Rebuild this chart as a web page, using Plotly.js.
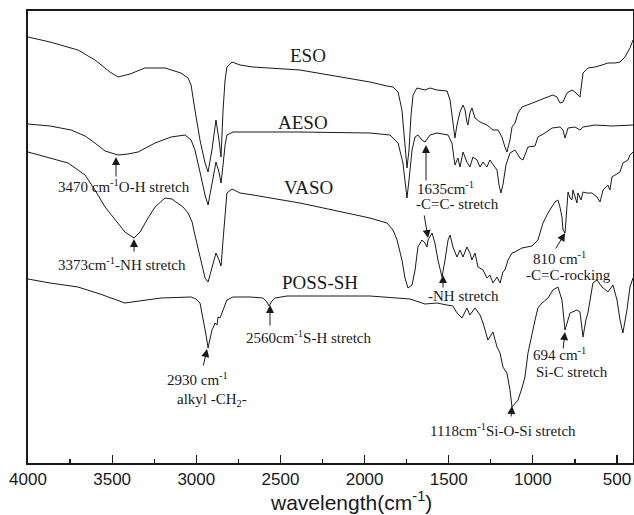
<!DOCTYPE html>
<html>
<head>
<meta charset="utf-8">
<script src="https://cdn.plot.ly/plotly-3.0.1.min.js"></script>
<style>html,body{margin:0;padding:0;background:#fff;}#chart{width:634px;height:515px;}</style>
</head>
<body>
<div id="chart"></div>
<script>
// Wavenumber (cm^-1) and relative transmittance (arbitrary offset units)
const esoX = [4000,3869,3703,3602,3513,3465,3394,3305,3186,3091,3049,3031,3008,2978,2948,2930,2907,2883,2865,2853,2841,2829,2818,2788,2740,2663,2384,1968,1867,1831,1801,1778,1760,1748,1736,1724,1712,1689,1641,1611,1570,1510,1492,1475,1463,1451,1433,1415,1403,1392,1386,1374,1362,1344,1314,1273,1237,1207,1184,1166,1154,1136,1124,1106,1088,1065,1029,987,928,881,857,839,821,797,768,750,720,702,673,631,589,554,512,482,453,423,405];
const esoY = [426,421,413,403,391,386,389,395,395,390,385,378,353,323,300,291,313,343,323,306,353,383,396,401,398,396,393,381,377,376,371,353,318,295,313,348,368,375,373,375,373,372,363,338,325,338,351,358,353,341,338,350,355,345,341,338,333,333,326,316,311,323,336,340,350,356,358,361,365,368,366,360,361,370,373,371,366,390,395,396,398,400,400,401,406,415,423];

const aesoX = [4000,3869,3744,3661,3602,3542,3465,3406,3346,3245,3150,3067,3031,3008,2978,2948,2930,2907,2883,2865,2853,2841,2829,2818,2782,2384,1968,1849,1801,1772,1754,1748,1736,1718,1700,1683,1659,1641,1611,1570,1504,1481,1463,1445,1433,1415,1392,1374,1356,1332,1314,1296,1273,1255,1231,1213,1201,1190,1178,1160,1136,1106,1077,1059,1029,987,970,928,886,839,821,809,791,750,720,702,631,530,405];
const aesoY = [339,337,333,327,320,312,308,309,311,320,326,328,323,313,291,268,258,278,301,291,280,298,318,328,331,331,330,328,320,300,271,265,283,313,326,328,323,321,328,330,328,320,298,305,296,311,301,296,306,303,296,301,296,303,297,293,278,270,278,298,310,313,305,303,316,317,326,330,335,336,333,325,335,336,333,336,338,337,338];

const vasoX = [4000,3869,3762,3661,3602,3542,3483,3424,3370,3334,3287,3245,3186,3144,3121,3079,3049,3025,3008,2978,2948,2930,2907,2883,2865,2853,2841,2829,2818,2788,2740,2663,2384,1968,1867,1831,1807,1778,1760,1742,1718,1700,1683,1659,1641,1629,1623,1599,1582,1564,1540,1522,1504,1492,1475,1451,1433,1415,1392,1374,1362,1344,1326,1296,1273,1255,1237,1213,1195,1178,1166,1148,1124,1106,1065,1035,1005,970,940,910,869,851,839,827,821,809,797,791,779,768,762,738,732,714,702,679,649,619,601,583,554,542,530,512,482,465,435,423,405];
const vasoY = [311,305,300,288,273,256,243,231,225,231,245,256,265,264,261,256,250,241,228,205,185,181,195,210,203,197,223,253,270,274,270,268,260,245,240,233,223,203,185,175,178,193,216,223,220,216,223,230,220,203,186,203,223,228,216,206,213,206,216,210,203,210,196,193,185,188,180,186,180,191,193,203,210,211,215,216,217,223,240,250,261,263,256,246,233,230,263,271,265,263,273,260,270,263,271,270,270,266,261,273,278,273,286,288,291,300,303,308,311];

const possX = [4000,3869,3703,3572,3424,3334,3210,3031,3002,2978,2960,2942,2930,2919,2907,2895,2889,2877,2871,2859,2841,2818,2782,2681,2604,2580,2568,2550,2532,2461,1968,1730,1641,1570,1510,1475,1451,1421,1392,1374,1344,1314,1296,1267,1237,1213,1195,1178,1154,1136,1124,1106,1088,1065,1047,1029,1005,987,970,946,910,881,851,827,809,791,779,738,720,702,685,673,643,619,589,554,524,500,482,465,441,423,405];
const possY = [184,180,176,169,160,162,165,166,164,160,145,128,115,125,133,137,140,138,146,145,153,163,166,166,165,161,157,162,165,167,167,164,159,160,158,157,150,145,155,148,155,148,140,123,131,116,110,96,90,73,56,59,63,75,86,110,131,143,155,160,165,173,176,163,133,145,150,153,151,126,143,150,180,183,176,171,178,163,143,130,153,176,185];

const seriesNames = ['ESO','AESO','VASO','POSS-SH'];
const xTicks = [4000,3500,3000,2500,2000,1500,1000,500];

const lineStyle = {color:'#1a1a1a', width:1};
const traces = [
  {x:esoX, y:esoY, name:seriesNames[0]},
  {x:aesoX, y:aesoY, name:seriesNames[1]},
  {x:vasoX, y:vasoY, name:seriesNames[2]},
  {x:possX, y:possY, name:seriesNames[3]}
].map(t => Object.assign(t, {type:'scatter', mode:'lines', line:lineStyle, hoverinfo:'skip', showlegend:false}));

const serif = 'Liberation Serif, Times New Roman, serif';
const lbl = {family:serif, size:19, color:'#1a1a1a'};
const ann = {family:serif, size:15, color:'#1a1a1a'};

function label(x, y, text, font, xanchor) {
  return {x:x, y:y, xref:'x', yref:'y', text:text, showarrow:false, font:font, xanchor:xanchor||'center', yanchor:'middle'};
}
function arrow(x, y, ax, ay) {
  return {x:x, y:y, ax:ax, ay:ay, xref:'x', yref:'y', axref:'x', ayref:'y', text:'', showarrow:true,
          arrowhead:2, arrowsize:1.6, arrowwidth:1, arrowcolor:'#1a1a1a', standoff:0, startstandoff:0};
}

const annotations = [
  label(2336, 408, seriesNames[0], lbl),
  label(2366, 341, seriesNames[1], lbl),
  label(2336, 276, seriesNames[2], lbl),
  label(2265, 181, seriesNames[3], lbl),
  label(3430, 277, '3470 cm<sup>-1</sup>O-H stretch', ann),
  label(3441, 199, '3373cm<sup>-1</sup>-NH stretch', ann),
  label(2990, 84, '2930 cm<sup>-1</sup>', ann),
  label(2907, 63, 'alkyl -CH<sub>2</sub>-', ann),
  label(2336, 126, '2560cm<sup>-1</sup>S-H stretch', ann),
  label(1701, 275, '1635cm<sup>-1</sup>', ann, 'left'),
  label(1707, 259, '-C=C- stretch', ann, 'left'),
  label(839, 205, '810 cm<sup>-1</sup>', ann),
  label(791, 188, '-C=C-rocking', ann),
  label(1415, 167, '-NH stretch', ann),
  label(839, 109, '694 cm<sup>-1</sup>', ann),
  label(768, 91, 'Si-C stretch', ann),
  label(1178, 33, '1118cm<sup>-1</sup>Si-O-Si stretch', ann),
  arrow(3477, 306, 3477, 285),
  arrow(3370, 224, 3370, 210),
  arrow(1635, 318, 1635, 281),
  arrow(1623, 225, 1647, 249),
  arrow(1534, 188, 1534, 174),
  arrow(2936, 114, 2960, 96),
  arrow(2562, 158, 2562, 136),
  arrow(809, 230, 869, 213),
  arrow(809, 131, 821, 113),
  arrow(1124, 57, 1130, 45),
  {x:0.534, y:-0.083, xref:'paper', yref:'paper', text:'wavelength(cm<sup>-1</sup>)', showarrow:false,
   font:{family:'Liberation Sans, Arial, sans-serif', size:21, color:'#1a1a1a'}, xanchor:'center', yanchor:'middle'}
];

const layout = {
  width:634, height:515,
  margin:{l:28, r:1, t:11, b:52},
  paper_bgcolor:'#fff', plot_bgcolor:'#fff',
  showlegend:false,
  xaxis:{range:[4000,405], tickvals:xTicks, ticktext:xTicks.map(String), ticks:'inside', ticklen:8, tickwidth:1.2, tickcolor:'#1a1a1a',
         minor:{dtick:250, tick0:0, ticks:'inside', ticklen:4, tickwidth:1.2, tickcolor:'#1a1a1a', showgrid:false},
         showline:true, linewidth:2, linecolor:'#1a1a1a', mirror:true, showgrid:false, zeroline:false,
         tickfont:{family:'Liberation Sans, Arial, sans-serif', size:17, color:'#1a1a1a'}},
  yaxis:{range:[0,452], showticklabels:false, ticks:'', showline:true, linewidth:2, linecolor:'#1a1a1a', mirror:true,
         showgrid:false, zeroline:false},
  annotations:annotations
};

Plotly.newPlot('chart', traces, layout, {staticPlot:true, displayModeBar:false});
</script>
</body>
</html>
